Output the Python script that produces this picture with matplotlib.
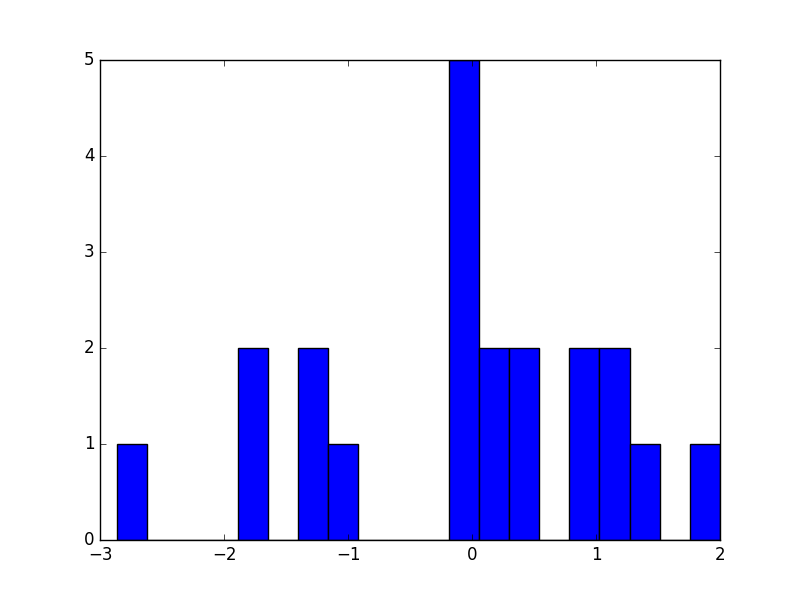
import numpy as np
import matplotlib
matplotlib.use("Agg")
import matplotlib.pyplot as plt

plt.style.use("classic")

# histogram: 20 equal bins between the data min and max
lo = -2.863
hi = 2.0
counts = [1, 0, 0, 0, 2, 0, 2, 1, 0, 0, 0, 5, 2, 2, 0, 2, 2, 1, 0, 1]

edges = np.linspace(lo, hi, len(counts) + 1)

fig, ax = plt.subplots(figsize=(8, 6), dpi=100)
ax.hist(edges[:-1], bins=edges, weights=counts, color="blue", edgecolor="black")
ax.set_xlim(-3, 2)
ax.set_ylim(0, 5)

fig.savefig("out.png", dpi=100)
